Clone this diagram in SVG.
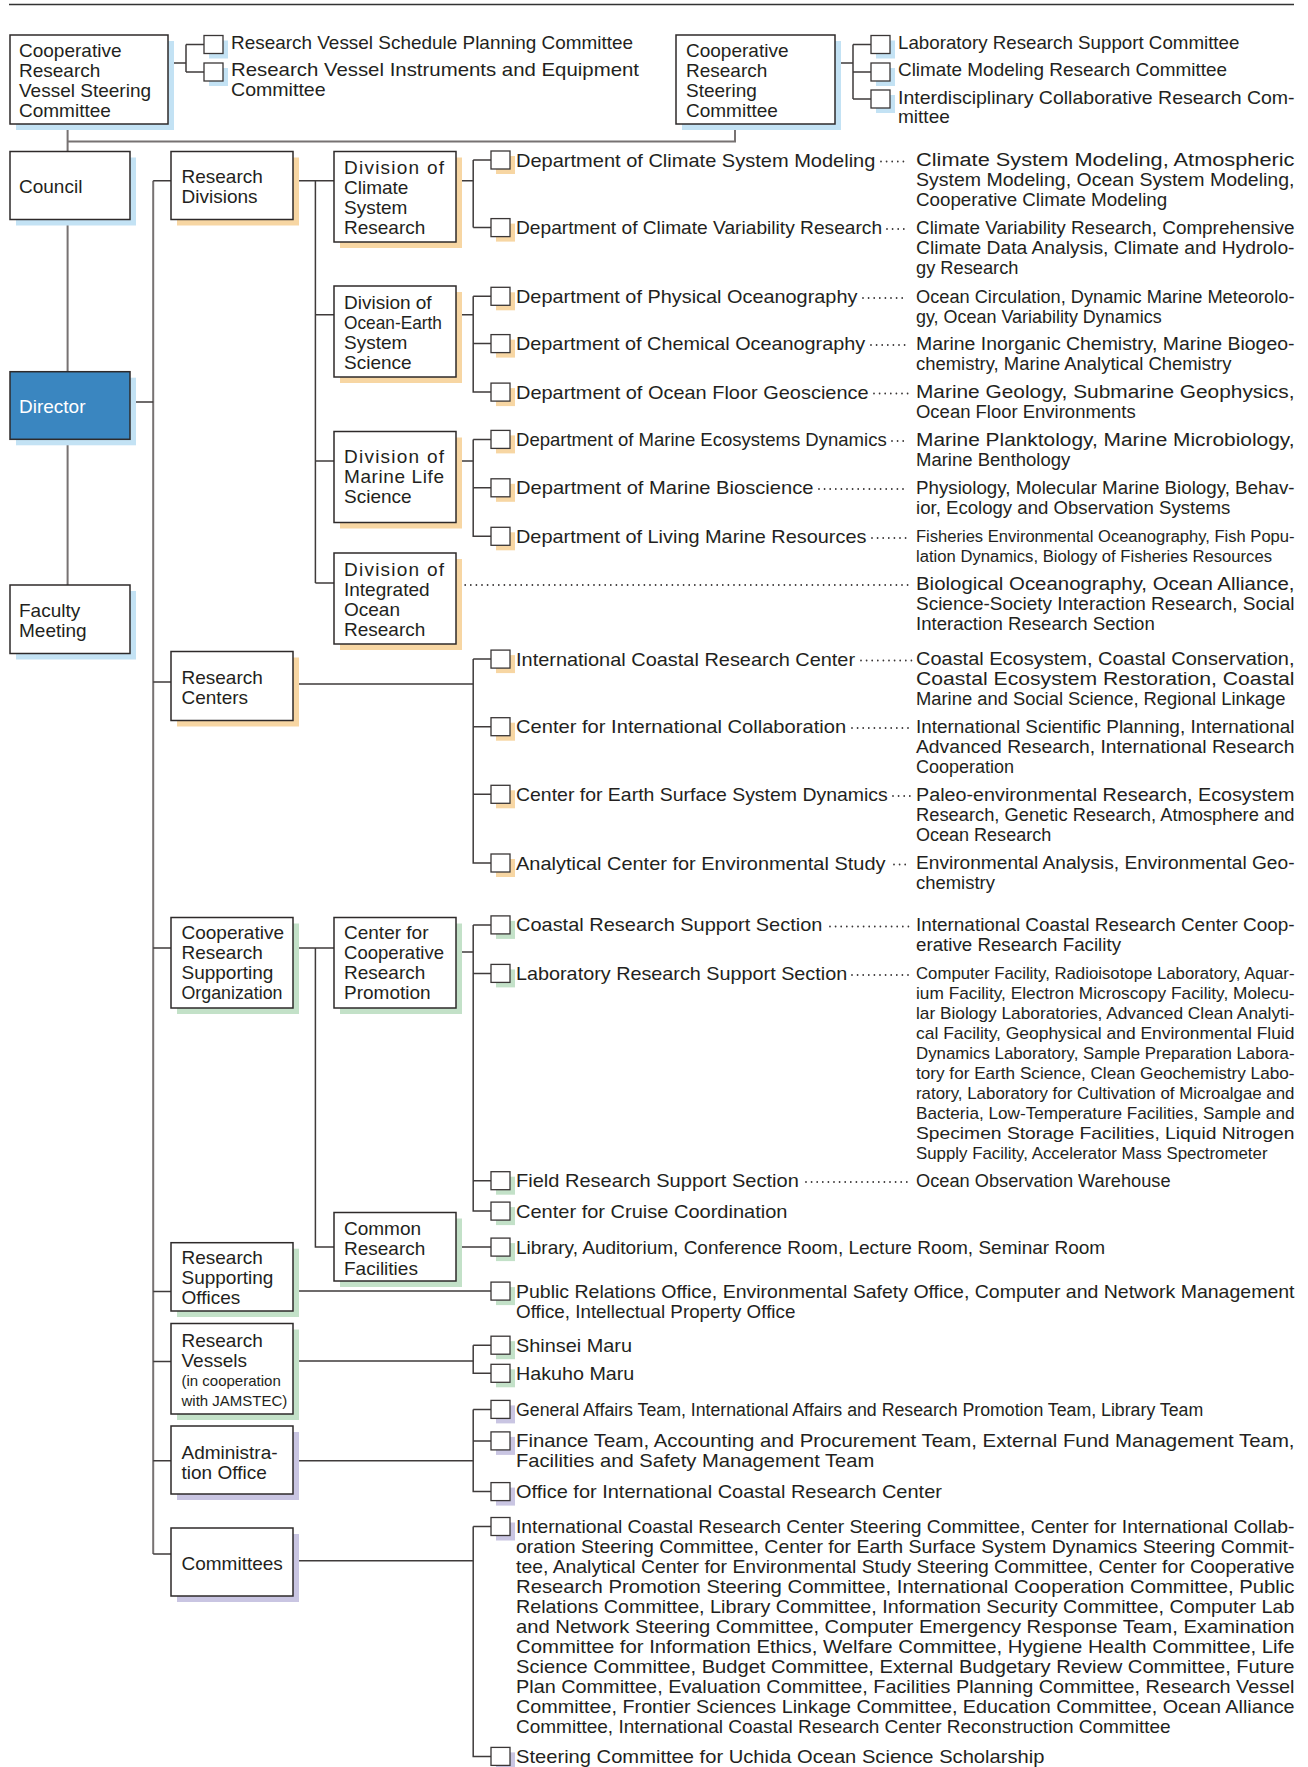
<svg xmlns="http://www.w3.org/2000/svg" width="1308" height="1767" viewBox="0 0 1308 1767">
<style>
text{font-family:"Liberation Sans",Arial,sans-serif;fill:#231f20}
.tb{font-size:19px}
.tn{font-size:19px}
.td{font-size:18px}
.ts{font-size:16px}
.tx{font-size:17px}
.tv{font-size:15px}
.box{fill:#fff;stroke:#2e2a2a;stroke-width:1.5}
.dir{fill:#3a86c0;stroke:#2e2a2a;stroke-width:1.5}
.sb{fill:#fff;stroke:#3a3636;stroke-width:1.3}
.shb{fill:#c3e2f4}.sho{fill:#f7d6a3}.shg{fill:#c3e1c8}.shp{fill:#c9c5e2}
.conn{fill:none;stroke:#3f3b3b;stroke-width:1.5}
.bus{fill:none;stroke:#777272;stroke-width:2}
.dots{fill:none;stroke:#3a3636;stroke-width:1.8;stroke-linecap:round;stroke-dasharray:0 5.6}
.w{fill:#fff}
</style>
<line x1="9" y1="4.5" x2="1294" y2="4.5" stroke="#333" stroke-width="1.5"/>
<g id="connectors">
<path class="bus" d="M67.6,124 V151.5 M67.6,141.5 H735 V124 M67.6,219.5 V371.7 M67.6,439.3 V585 M153.2,180.7 V1554"/>
<path class="conn" d="M168,63 H186 M186,44.5 V72 M186,44.5 H204 M186,72 H204"/>
<path class="conn" d="M835,63 H853 M853,44.5 V99 M853,44.5 H871 M853,72 H871 M853,99 H871"/>
<path class="conn" d="M130,402 H153.2 M153.2,180.7 H171 M153.2,682 H171 M153.2,948 H171 M153.2,1291.5 H171 M153.2,1361.5 H171 M153.2,1460.7 H171 M153.2,1554 H171"/>
<path class="conn" d="M293,180.7 H334 M315.4,180.7 V583 M315.4,314.7 H334 M315.4,461 H334 M315.4,583 H334"/>
<path class="conn" d="M456,180.7 H473.2 M473.2,160 V227.6 M473.2,160 H491 M473.2,227.6 H491"/>
<path class="conn" d="M456,314.7 H473.2 M473.2,296.3 V392.1 H491 M473.2,296.3 H491 M473.2,343.6 H491"/>
<path class="conn" d="M456,461 H473.2 M473.2,439.4 V536.3 H491 M473.2,439.4 H491 M473.2,487.8 H491"/>
<path class="conn" d="M293,684 H473.2 M473.2,659.1 V863 H491 M473.2,659.1 H491 M473.2,726.7 H491 M473.2,794.3 H491"/>
<path class="conn" d="M293,948 H334 M315.4,948 V1247 H334"/>
<path class="conn" d="M456,952 H473.2 M473.2,924.9 V1211.1 H491 M473.2,924.9 H491 M473.2,973.4 H491 M473.2,1180.7 H491"/>
<path class="conn" d="M456,1247.1 H491 M293,1291.1 H491"/>
<path class="conn" d="M293,1361 H473.2 M473.2,1345.2 V1373.3 H491 M473.2,1345.2 H491"/>
<path class="conn" d="M293,1460.7 H473.2 M473.2,1409.4 V1491.6 H491 M473.2,1409.4 H491 M473.2,1440.9 H491"/>
<path class="conn" d="M293,1560.7 H473.2 M473.2,1526.5 V1756.4 H491 M473.2,1526.5 H491"/>
<path class="dots" d="M881,161.5 H908 M887,229 H909 M863,298 H907 M871,345 H905 M874,393.5 H910 M892,441 H907 M819,489 H905 M872,538 H910 M459.6,585 H912 M861,660.5 H912 M852,728 H910 M893,796 H910 M894,864.5 H910 M830,926.5 H910 M852,975 H910 M806,1182 H907"/>
</g>

<g id="cr-vessel-steering">
<rect class="shb" x="16" y="41" width="158" height="89"/><rect class="box" x="10" y="35" width="158" height="89"/>
<text class="tb" x="19" y="57">Cooperative</text><text class="tb" x="19" y="77">Research</text><text class="tb" x="19" y="97">Vessel Steering</text><text class="tb" x="19" y="117">Committee</text>
</g>
<g id="rv-schedule"><rect class="shb" x="209" y="40.5" width="19" height="18"/><rect class="sb" x="204" y="35.5" width="19" height="18"/>
<text class="tb" x="231" y="48.5" textLength="402" lengthAdjust="spacingAndGlyphs">Research Vessel Schedule Planning Committee</text></g>
<g id="rv-instruments"><rect class="shb" x="209" y="68" width="19" height="18"/><rect class="sb" x="204" y="63" width="19" height="18"/>
<text class="tb" x="231" y="76" textLength="408" lengthAdjust="spacingAndGlyphs">Research Vessel Instruments and Equipment</text><text class="tb" x="231" y="95.5" textLength="94.6" lengthAdjust="spacingAndGlyphs">Committee</text></g>

<g id="cr-steering">
<rect class="shb" x="682" y="41" width="159" height="89"/><rect class="box" x="676" y="35" width="159" height="89"/>
<text class="tb" x="686" y="57">Cooperative</text><text class="tb" x="686" y="77">Research</text><text class="tb" x="686" y="97">Steering</text><text class="tb" x="686" y="117">Committee</text>
</g>
<g id="lab-support-comm"><rect class="shb" x="876" y="40.5" width="19" height="18"/><rect class="sb" x="871" y="35.5" width="19" height="18"/>
<text class="tb" x="898" y="48.5" textLength="341.4" lengthAdjust="spacingAndGlyphs">Laboratory Research Support Committee</text></g>
<g id="climate-modeling-comm"><rect class="shb" x="876" y="68" width="19" height="18"/><rect class="sb" x="871" y="63" width="19" height="18"/>
<text class="tb" x="898" y="76" textLength="329" lengthAdjust="spacingAndGlyphs">Climate Modeling Research Committee</text></g>
<g id="interdisciplinary-comm"><rect class="shb" x="876" y="95" width="19" height="18"/><rect class="sb" x="871" y="90" width="19" height="18"/>
<text class="tb" x="898" y="103.5" textLength="396.6" lengthAdjust="spacingAndGlyphs">Interdisciplinary Collaborative Research Com-</text><text class="tb" x="898" y="122.5" textLength="51.8" lengthAdjust="spacingAndGlyphs">mittee</text></g>

<g id="council"><rect class="shb" x="16" y="157.5" width="120" height="68"/><rect class="box" x="10" y="151.5" width="120" height="68"/>
<text class="tb" x="19" y="192.5">Council</text></g>
<g id="director"><rect class="shb" x="16" y="377.7" width="120" height="67.6"/><rect class="dir" x="10" y="371.7" width="120" height="67.6"/>
<text class="tb w" x="19" y="412.5" style="fill:#fff">Director</text></g>
<g id="faculty-meeting"><rect class="shb" x="16" y="591" width="120" height="68.5"/><rect class="box" x="10" y="585" width="120" height="68.5"/>
<text class="tb" x="19" y="617">Faculty</text><text class="tb" x="19" y="637">Meeting</text></g>

<g id="research-divisions"><rect class="sho" x="177" y="157.5" width="122" height="68"/><rect class="box" x="171" y="151.5" width="122" height="68"/>
<text class="tb" x="181.5" y="183">Research</text><text class="tb" x="181.5" y="203">Divisions</text></g>
<g id="div-climate"><rect class="sho" x="340" y="157.5" width="122" height="90.5"/><rect class="box" x="334" y="151.5" width="122" height="90.5"/>
<text class="tb" x="344" y="174" textLength="100" lengthAdjust="spacing">Division of</text><text class="tb" x="344" y="194">Climate</text><text class="tb" x="344" y="214">System</text><text class="tb" x="344" y="234">Research</text></g>
<g id="div-ocean-earth"><rect class="sho" x="340" y="292" width="122" height="91"/><rect class="box" x="334" y="286" width="122" height="91"/>
<text class="tb" x="344" y="308.5">Division of</text><text class="tb" x="344" y="328.5" textLength="98" lengthAdjust="spacingAndGlyphs">Ocean-Earth</text><text class="tb" x="344" y="348.5">System</text><text class="tb" x="344" y="368.5">Science</text></g>
<g id="div-marine-life"><rect class="sho" x="340" y="437.5" width="122" height="91"/><rect class="box" x="334" y="431.5" width="122" height="91"/>
<text class="tb" x="344" y="463" textLength="100" lengthAdjust="spacing">Division of</text><text class="tb" x="344" y="483" textLength="100" lengthAdjust="spacing">Marine Life</text><text class="tb" x="344" y="503">Science</text></g>
<g id="div-integrated"><rect class="sho" x="340" y="559" width="122" height="91"/><rect class="box" x="334" y="553" width="122" height="91"/>
<text class="tb" x="344" y="575.5" textLength="100" lengthAdjust="spacing">Division of</text><text class="tb" x="344" y="595.5">Integrated</text><text class="tb" x="344" y="615.5">Ocean</text><text class="tb" x="344" y="635.5">Research</text></g>

<g id="research-centers"><rect class="sho" x="177" y="657.5" width="122" height="69"/><rect class="box" x="171" y="651.5" width="122" height="69"/>
<text class="tb" x="181.5" y="683.5">Research</text><text class="tb" x="181.5" y="703.5">Centers</text></g>
<g id="coop-org"><rect class="shg" x="177" y="923.5" width="122" height="90.5"/><rect class="box" x="171" y="917.5" width="122" height="90.5"/>
<text class="tb" x="181.5" y="939">Cooperative</text><text class="tb" x="181.5" y="959">Research</text><text class="tb" x="181.5" y="979">Supporting</text><text class="tb" x="181.5" y="999" textLength="101" lengthAdjust="spacingAndGlyphs">Organization</text></g>
<g id="center-coop"><rect class="shg" x="340" y="923.5" width="122" height="90.5"/><rect class="box" x="334" y="917.5" width="122" height="90.5"/>
<text class="tb" x="344" y="939">Center for</text><text class="tb" x="344" y="959" textLength="100" lengthAdjust="spacingAndGlyphs">Cooperative</text><text class="tb" x="344" y="979">Research</text><text class="tb" x="344" y="999">Promotion</text></g>
<g id="common-facilities"><rect class="shg" x="340" y="1218.5" width="122" height="68.5"/><rect class="box" x="334" y="1212.5" width="122" height="68.5"/>
<text class="tb" x="344" y="1235">Common</text><text class="tb" x="344" y="1255">Research</text><text class="tb" x="344" y="1275">Facilities</text></g>
<g id="supporting-offices"><rect class="shg" x="177" y="1248.7" width="122" height="68.3"/><rect class="box" x="171" y="1242.7" width="122" height="68.3"/>
<text class="tb" x="181.5" y="1264">Research</text><text class="tb" x="181.5" y="1284">Supporting</text><text class="tb" x="181.5" y="1304">Offices</text></g>
<g id="research-vessels"><rect class="shg" x="177" y="1329.5" width="122" height="90.5"/><rect class="box" x="171" y="1323.5" width="122" height="90.5"/>
<text class="tb" x="181.5" y="1347">Research</text><text class="tb" x="181.5" y="1367">Vessels</text><text class="tv" x="181.5" y="1386">(in cooperation</text><text class="tv" x="181.5" y="1405.5">with JAMSTEC)</text></g>
<g id="administration"><rect class="shp" x="177" y="1432" width="122" height="68"/><rect class="box" x="171" y="1426" width="122" height="68"/>
<text class="tb" x="181.5" y="1458.5">Administra-</text><text class="tb" x="181.5" y="1478.5">tion Office</text></g>
<g id="committees"><rect class="shp" x="177" y="1534" width="122" height="68"/><rect class="box" x="171" y="1528" width="122" height="68"/>
<text class="tb" x="181.5" y="1569.5">Committees</text></g>

<g id="dept-csm"><rect class="sho" x="496" y="156" width="19" height="18"/><rect class="sb" x="491" y="151" width="19" height="18"/>
<text class="tn" x="516" y="166.5" textLength="359.4" lengthAdjust="spacingAndGlyphs">Department of Climate System Modeling</text>
<text class="td" x="916" y="166.3" textLength="378.5" lengthAdjust="spacingAndGlyphs">Climate System Modeling, Atmospheric</text>
<text class="td" x="916" y="186.3" textLength="378.5" lengthAdjust="spacingAndGlyphs">System Modeling, Ocean System Modeling,</text>
<text class="td" x="916" y="206.3" textLength="251.2" lengthAdjust="spacingAndGlyphs">Cooperative Climate Modeling</text></g>
<g id="dept-cvr"><rect class="sho" x="496" y="223.6" width="19" height="18"/><rect class="sb" x="491" y="218.6" width="19" height="18"/>
<text class="tn" x="516" y="234.1" textLength="366.1" lengthAdjust="spacingAndGlyphs">Department of Climate Variability Research</text>
<text class="td" x="916" y="233.9" textLength="378.5" lengthAdjust="spacingAndGlyphs">Climate Variability Research, Comprehensive</text>
<text class="td" x="916" y="253.9" textLength="378.5" lengthAdjust="spacingAndGlyphs">Climate Data Analysis, Climate and Hydrolo-</text>
<text class="td" x="916" y="273.9" textLength="102.5" lengthAdjust="spacingAndGlyphs">gy Research</text></g>
<g id="dept-phys"><rect class="sho" x="496" y="292.3" width="19" height="18"/><rect class="sb" x="491" y="287.3" width="19" height="18"/>
<text class="tn" x="516" y="302.8" textLength="341.4" lengthAdjust="spacingAndGlyphs">Department of Physical Oceanography</text>
<text class="td" x="916" y="302.6" textLength="378.5" lengthAdjust="spacingAndGlyphs">Ocean Circulation, Dynamic Marine Meteorolo-</text>
<text class="td" x="916" y="322.6" textLength="245.6" lengthAdjust="spacingAndGlyphs">gy, Ocean Variability Dynamics</text></g>
<g id="dept-chem"><rect class="sho" x="496" y="339.6" width="19" height="18"/><rect class="sb" x="491" y="334.6" width="19" height="18"/>
<text class="tn" x="516" y="350.1" textLength="349.2" lengthAdjust="spacingAndGlyphs">Department of Chemical Oceanography</text>
<text class="td" x="916" y="349.9" textLength="378.5" lengthAdjust="spacingAndGlyphs">Marine Inorganic Chemistry, Marine Biogeo-</text>
<text class="td" x="916" y="369.9" textLength="315.4" lengthAdjust="spacingAndGlyphs">chemistry, Marine Analytical Chemistry</text></g>
<g id="dept-ofg"><rect class="sho" x="496" y="388.1" width="19" height="18"/><rect class="sb" x="491" y="383.1" width="19" height="18"/>
<text class="tn" x="516" y="398.6" textLength="352.6" lengthAdjust="spacingAndGlyphs">Department of Ocean Floor Geoscience</text>
<text class="td" x="916" y="398.4" textLength="378.5" lengthAdjust="spacingAndGlyphs">Marine Geology, Submarine Geophysics,</text>
<text class="td" x="916" y="418.4" textLength="219.7" lengthAdjust="spacingAndGlyphs">Ocean Floor Environments</text></g>
<g id="dept-med"><rect class="sho" x="496" y="435.4" width="19" height="18"/><rect class="sb" x="491" y="430.4" width="19" height="18"/>
<text class="tn" x="516" y="445.9" textLength="370.7" lengthAdjust="spacingAndGlyphs">Department of Marine Ecosystems Dynamics</text>
<text class="td" x="916" y="445.7" textLength="378.5" lengthAdjust="spacingAndGlyphs">Marine Planktology, Marine Microbiology,</text>
<text class="td" x="916" y="465.7" textLength="154.3" lengthAdjust="spacingAndGlyphs">Marine Benthology</text></g>
<g id="dept-mb"><rect class="sho" x="496" y="483.8" width="19" height="18"/><rect class="sb" x="491" y="478.8" width="19" height="18"/>
<text class="tn" x="516" y="494.3" textLength="297.4" lengthAdjust="spacingAndGlyphs">Department of Marine Bioscience</text>
<text class="td" x="916" y="494.1" textLength="378.5" lengthAdjust="spacingAndGlyphs">Physiology, Molecular Marine Biology, Behav-</text>
<text class="td" x="916" y="514.1" textLength="314.3" lengthAdjust="spacingAndGlyphs">ior, Ecology and Observation Systems</text></g>
<g id="dept-lmr"><rect class="sho" x="496" y="532.3" width="19" height="18"/><rect class="sb" x="491" y="527.3" width="19" height="18"/>
<text class="tn" x="516" y="542.8" textLength="350.4" lengthAdjust="spacingAndGlyphs">Department of Living Marine Resources</text>
<text class="ts" x="916" y="542.2" textLength="378.5" lengthAdjust="spacingAndGlyphs">Fisheries Environmental Oceanography, Fish Popu-</text>
<text class="ts" x="916" y="562.2" textLength="356" lengthAdjust="spacingAndGlyphs">lation Dynamics, Biology of Fisheries Resources</text></g>
<g id="integrated-fields">
<text class="td" x="916" y="589.9" textLength="378.5" lengthAdjust="spacingAndGlyphs">Biological Oceanography, Ocean Alliance,</text>
<text class="td" x="916" y="609.9" textLength="378.5" lengthAdjust="spacingAndGlyphs">Science-Society Interaction Research, Social</text>
<text class="td" x="916" y="629.9" textLength="238.8" lengthAdjust="spacingAndGlyphs">Interaction Research Section</text></g>

<g id="center-icrc"><rect class="sho" x="496" y="655.1" width="19" height="18"/><rect class="sb" x="491" y="650.1" width="19" height="18"/>
<text class="tn" x="516" y="665.6" textLength="339.1" lengthAdjust="spacingAndGlyphs">International Coastal Research Center</text>
<text class="td" x="916" y="665.4" textLength="378.5" lengthAdjust="spacingAndGlyphs">Coastal Ecosystem, Coastal Conservation,</text>
<text class="td" x="916" y="685.4" textLength="378.5" lengthAdjust="spacingAndGlyphs">Coastal Ecosystem Restoration, Coastal</text>
<text class="td" x="916" y="705.4" textLength="369.5" lengthAdjust="spacingAndGlyphs">Marine and Social Science, Regional Linkage</text></g>
<g id="center-cic"><rect class="sho" x="496" y="722.7" width="19" height="18"/><rect class="sb" x="491" y="717.7" width="19" height="18"/>
<text class="tn" x="516" y="733.2" textLength="330.1" lengthAdjust="spacingAndGlyphs">Center for International Collaboration</text>
<text class="td" x="916" y="733" textLength="378.5" lengthAdjust="spacingAndGlyphs">International Scientific Planning, International</text>
<text class="td" x="916" y="753" textLength="378.5" lengthAdjust="spacingAndGlyphs">Advanced Research, International Research</text>
<text class="td" x="916" y="773" textLength="98" lengthAdjust="spacingAndGlyphs">Cooperation</text></g>
<g id="center-cessd"><rect class="sho" x="496" y="790.3" width="19" height="18"/><rect class="sb" x="491" y="785.3" width="19" height="18"/>
<text class="tn" x="516" y="800.8" textLength="371.8" lengthAdjust="spacingAndGlyphs">Center for Earth Surface System Dynamics</text>
<text class="td" x="916" y="800.6" textLength="378.5" lengthAdjust="spacingAndGlyphs">Paleo-environmental Research, Ecosystem</text>
<text class="td" x="916" y="820.6" textLength="378.5" lengthAdjust="spacingAndGlyphs">Research, Genetic Research, Atmosphere and</text>
<text class="td" x="916" y="840.6" textLength="135.2" lengthAdjust="spacingAndGlyphs">Ocean Research</text></g>
<g id="center-aces"><rect class="sho" x="496" y="859" width="19" height="18"/><rect class="sb" x="491" y="854" width="19" height="18"/>
<text class="tn" x="516" y="869.5" textLength="369.5" lengthAdjust="spacingAndGlyphs">Analytical Center for Environmental Study</text>
<text class="td" x="916" y="869.3" textLength="378.5" lengthAdjust="spacingAndGlyphs">Environmental Analysis, Environmental Geo-</text>
<text class="td" x="916" y="889.3" textLength="78.9" lengthAdjust="spacingAndGlyphs">chemistry</text></g>

<g id="sec-coastal"><rect class="shg" x="496" y="920.9" width="19" height="18"/><rect class="sb" x="491" y="915.9" width="19" height="18"/>
<text class="tn" x="516" y="931.4" textLength="306.4" lengthAdjust="spacingAndGlyphs">Coastal Research Support Section</text>
<text class="td" x="916" y="931.2" textLength="378.5" lengthAdjust="spacingAndGlyphs">International Coastal Research Center Coop-</text>
<text class="td" x="916" y="951.2" textLength="205" lengthAdjust="spacingAndGlyphs">erative Research Facility</text></g>
<g id="sec-lab"><rect class="shg" x="496" y="969.4" width="19" height="18"/><rect class="sb" x="491" y="964.4" width="19" height="18"/>
<text class="tn" x="516" y="979.9" textLength="331.2" lengthAdjust="spacingAndGlyphs">Laboratory Research Support Section</text>
<text class="tx" x="916" y="979.4" textLength="378.5" lengthAdjust="spacingAndGlyphs">Computer Facility, Radioisotope Laboratory, Aquar-</text>
<text class="tx" x="916" y="999.4" textLength="378.5" lengthAdjust="spacingAndGlyphs">ium Facility, Electron Microscopy Facility, Molecu-</text>
<text class="tx" x="916" y="1019.4" textLength="378.5" lengthAdjust="spacingAndGlyphs">lar Biology Laboratories, Advanced Clean Analyti-</text>
<text class="tx" x="916" y="1039.4" textLength="378.5" lengthAdjust="spacingAndGlyphs">cal Facility, Geophysical and Environmental Fluid</text>
<text class="tx" x="916" y="1059.4" textLength="378.5" lengthAdjust="spacingAndGlyphs">Dynamics Laboratory, Sample Preparation Labora-</text>
<text class="tx" x="916" y="1079.4" textLength="378.5" lengthAdjust="spacingAndGlyphs">tory for Earth Science, Clean Geochemistry Labo-</text>
<text class="tx" x="916" y="1099.4" textLength="378.5" lengthAdjust="spacingAndGlyphs">ratory, Laboratory for Cultivation of Microalgae and</text>
<text class="tx" x="916" y="1119.4" textLength="378.5" lengthAdjust="spacingAndGlyphs">Bacteria, Low-Temperature Facilities, Sample and</text>
<text class="tx" x="916" y="1139.4" textLength="378.5" lengthAdjust="spacingAndGlyphs">Specimen Storage Facilities, Liquid Nitrogen</text>
<text class="tx" x="916" y="1159.4" textLength="351.5" lengthAdjust="spacingAndGlyphs">Supply Facility, Accelerator Mass Spectrometer</text></g>
<g id="sec-field"><rect class="shg" x="496" y="1176.7" width="19" height="18"/><rect class="sb" x="491" y="1171.7" width="19" height="18"/>
<text class="tn" x="516" y="1187.2" textLength="282.8" lengthAdjust="spacingAndGlyphs">Field Research Support Section</text>
<text class="td" x="916" y="1187" textLength="254.6" lengthAdjust="spacingAndGlyphs">Ocean Observation Warehouse</text></g>
<g id="cruise"><rect class="shg" x="496" y="1207.1" width="19" height="18"/><rect class="sb" x="491" y="1202.1" width="19" height="18"/>
<text class="tn" x="516" y="1217.6" textLength="271.5" lengthAdjust="spacingAndGlyphs">Center for Cruise Coordination</text></g>
<g id="library"><rect class="shg" x="496" y="1243.1" width="19" height="18"/><rect class="sb" x="491" y="1238.1" width="19" height="18"/>
<text class="tn" x="516" y="1253.6" textLength="589.2" lengthAdjust="spacingAndGlyphs">Library, Auditorium, Conference Room, Lecture Room, Seminar Room</text></g>
<g id="offices"><rect class="shg" x="496" y="1287.1" width="19" height="18"/><rect class="sb" x="491" y="1282.1" width="19" height="18"/>
<text class="tn" x="516" y="1297.6" textLength="778.5" lengthAdjust="spacingAndGlyphs">Public Relations Office, Environmental Safety Office, Computer and Network Management</text>
<text class="tn" x="516" y="1317.6" textLength="279.4" lengthAdjust="spacingAndGlyphs">Office, Intellectual Property Office</text></g>
<g id="shinsei"><rect class="shg" x="496" y="1341.2" width="19" height="18"/><rect class="sb" x="491" y="1336.2" width="19" height="18"/>
<text class="tn" x="516" y="1351.7" textLength="116" lengthAdjust="spacingAndGlyphs">Shinsei Maru</text></g>
<g id="hakuho"><rect class="shg" x="496" y="1369.3" width="19" height="18"/><rect class="sb" x="491" y="1364.3" width="19" height="18"/>
<text class="tn" x="516" y="1379.8" textLength="118.3" lengthAdjust="spacingAndGlyphs">Hakuho Maru</text></g>

<g id="team-general"><rect class="shp" x="496" y="1405.4" width="19" height="18"/><rect class="sb" x="491" y="1400.4" width="19" height="18"/>
<text class="td" x="516" y="1415.9" textLength="687.2" lengthAdjust="spacingAndGlyphs">General Affairs Team, International Affairs and Research Promotion Team, Library Team</text></g>
<g id="team-finance"><rect class="shp" x="496" y="1436.9" width="19" height="18"/><rect class="sb" x="491" y="1431.9" width="19" height="18"/>
<text class="tn" x="516" y="1447.4" textLength="778.5" lengthAdjust="spacingAndGlyphs">Finance Team, Accounting and Procurement Team, External Fund Management Team,</text>
<text class="tn" x="516" y="1467.4" textLength="358.3" lengthAdjust="spacingAndGlyphs">Facilities and Safety Management Team</text></g>
<g id="office-icrc"><rect class="shp" x="496" y="1487.6" width="19" height="18"/><rect class="sb" x="491" y="1482.6" width="19" height="18"/>
<text class="tn" x="516" y="1498.1" textLength="425.9" lengthAdjust="spacingAndGlyphs">Office for International Coastal Research Center</text></g>
<g id="committee-list"><rect class="shp" x="496" y="1522.5" width="19" height="18"/><rect class="sb" x="491" y="1517.5" width="19" height="18"/>
<text class="tn" x="516" y="1533" textLength="778.5" lengthAdjust="spacingAndGlyphs">International Coastal Research Center Steering Committee, Center for International Collab-</text>
<text class="tn" x="516" y="1553" textLength="778.5" lengthAdjust="spacingAndGlyphs">oration Steering Committee, Center for Earth Surface System Dynamics Steering Commit-</text>
<text class="tn" x="516" y="1573" textLength="778.5" lengthAdjust="spacingAndGlyphs">tee, Analytical Center for Environmental Study Steering Committee, Center for Cooperative</text>
<text class="tn" x="516" y="1593" textLength="778.5" lengthAdjust="spacingAndGlyphs">Research Promotion Steering Committee, International Cooperation Committee, Public</text>
<text class="tn" x="516" y="1613" textLength="778.5" lengthAdjust="spacingAndGlyphs">Relations Committee, Library Committee, Information Security Committee, Computer Lab</text>
<text class="tn" x="516" y="1633" textLength="778.5" lengthAdjust="spacingAndGlyphs">and Network Steering Committee, Computer Emergency Response Team, Examination</text>
<text class="tn" x="516" y="1653" textLength="778.5" lengthAdjust="spacingAndGlyphs">Committee for Information Ethics, Welfare Committee, Hygiene Health Committee, Life</text>
<text class="tn" x="516" y="1673" textLength="778.5" lengthAdjust="spacingAndGlyphs">Science Committee, Budget Committee, External Budgetary Review Committee, Future</text>
<text class="tn" x="516" y="1693" textLength="778.5" lengthAdjust="spacingAndGlyphs">Plan Committee, Evaluation Committee, Facilities Planning Committee, Research Vessel</text>
<text class="tn" x="516" y="1713" textLength="778.5" lengthAdjust="spacingAndGlyphs">Committee, Frontier Sciences Linkage Committee, Education Committee, Ocean Alliance</text>
<text class="tn" x="516" y="1733" textLength="654.6" lengthAdjust="spacingAndGlyphs">Committee, International Coastal Research Center Reconstruction Committee</text></g>
<g id="uchida"><rect class="shp" x="496" y="1752.4" width="19" height="18"/><rect class="sb" x="491" y="1747.4" width="19" height="18"/>
<text class="tn" x="516" y="1762.9" textLength="528.4" lengthAdjust="spacingAndGlyphs">Steering Committee for Uchida Ocean Science Scholarship</text></g>
</svg>
